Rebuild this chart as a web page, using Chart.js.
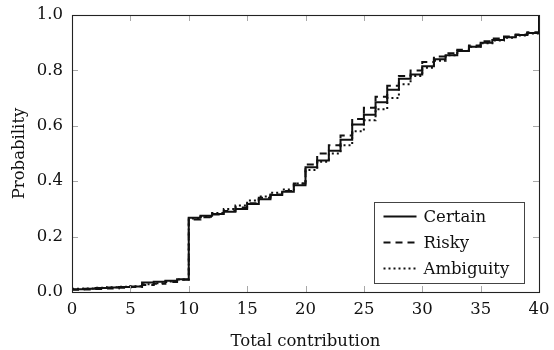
<!DOCTYPE html>
<html>
<head>
<meta charset="utf-8">
<title>Total contribution CDF</title>
<script src="https://cdn.jsdelivr.net/npm/chart.js@4.4.1/dist/chart.umd.min.js"></script>
<style>
  html, body { margin: 0; padding: 0; background: #fff; }
  #wrap { width: 554px; height: 350px; }
</style>
</head>
<body>
<div id="wrap"><canvas id="cdf" width="554" height="350"></canvas></div>
<script>
// Contribution levels (integers 0..40)
const contributions = [
  0, 1, 2, 3, 4, 5, 6, 7, 8, 9, 10, 11, 12, 13, 14, 15, 16, 17, 18, 19, 20,
  21, 22, 23, 24, 25, 26, 27, 28, 29, 30, 31, 32, 33, 34, 35, 36, 37, 38, 39, 40
];

// Empirical cumulative probabilities per treatment
const certainCdf = [
  0.010, 0.012, 0.014, 0.016, 0.018, 0.020, 0.034, 0.037, 0.041, 0.046,
  0.268, 0.275, 0.282, 0.290, 0.300, 0.318, 0.335, 0.350, 0.362, 0.385,
  0.450, 0.475, 0.510, 0.550, 0.605, 0.640, 0.685, 0.730, 0.770, 0.785,
  0.815, 0.840, 0.855, 0.870, 0.885, 0.900, 0.910, 0.920, 0.928, 0.935, 1.000
];
const riskyCdf = [
  0.008, 0.009, 0.011, 0.013, 0.015, 0.018, 0.025, 0.030, 0.036, 0.044,
  0.262, 0.270, 0.280, 0.292, 0.305, 0.320, 0.340, 0.352, 0.365, 0.392,
  0.460, 0.500, 0.530, 0.565, 0.625, 0.665, 0.705, 0.745, 0.780, 0.800,
  0.830, 0.850, 0.862, 0.875, 0.890, 0.905, 0.915, 0.922, 0.930, 0.938, 1.000
];
const ambiguityCdf = [
  0.012, 0.013, 0.015, 0.017, 0.019, 0.021, 0.028, 0.032, 0.038, 0.045,
  0.265, 0.272, 0.285, 0.300, 0.312, 0.330, 0.345, 0.358, 0.370, 0.392,
  0.440, 0.470, 0.500, 0.530, 0.580, 0.620, 0.660, 0.700, 0.750, 0.780,
  0.810, 0.835, 0.855, 0.870, 0.885, 0.898, 0.908, 0.918, 0.926, 0.933, 1.000
];

const seriesNames = ['Certain', 'Risky', 'Ambiguity'];
const xTicks = [0, 5, 10, 15, 20, 25, 30, 35, 40];
const yTicks = [0.0, 0.2, 0.4, 0.6, 0.8, 1.0];

const FONT = '"DejaVu Serif", "Liberation Serif", serif';
const INK = '#111';

function points(values) {
  return contributions.map((c, i) => ({ x: c, y: values[i] }));
}

const dashes = [[], [7, 5], [2, 3]];
const curves = [certainCdf, riskyCdf, ambiguityCdf];

const datasets = curves.map((vals, i) => ({
  label: seriesNames[i],
  data: points(vals),
  stepped: 'before',
  borderColor: INK,
  borderWidth: 2,
  borderDash: dashes[i],
  pointRadius: 0,
  fill: false
}));

// Frame, inward ticks on all four sides, and the boxed legend
const framePlugin = {
  id: 'frame',
  afterDraw(chart) {
    const { ctx, chartArea: a, scales } = chart;
    const xs = scales.x, ys = scales.y;
    ctx.save();
    // inward tick marks
    ctx.strokeStyle = '#a8a8a8';
    ctx.lineWidth = 1;
    const tl = 6;
    ctx.beginPath();
    xTicks.forEach(v => {
      const px = Math.round(xs.getPixelForValue(v)) + 0.5;
      ctx.moveTo(px, a.bottom); ctx.lineTo(px, a.bottom - tl);
      ctx.moveTo(px, a.top); ctx.lineTo(px, a.top + tl);
    });
    yTicks.forEach(v => {
      const py = Math.round(ys.getPixelForValue(v)) + 0.5;
      ctx.moveTo(a.left, py); ctx.lineTo(a.left + tl, py);
      ctx.moveTo(a.right, py); ctx.lineTo(a.right - tl, py);
    });
    ctx.stroke();
    // axis frame
    ctx.strokeStyle = '#222';
    ctx.lineWidth = 1.1;
    ctx.strokeRect(Math.round(a.left) + 0.5, Math.round(a.top) + 0.5,
                   Math.round(a.right - a.left), Math.round(a.bottom - a.top));

    // legend box
    const bw = 150, bh = 81;
    const bx = Math.round(a.right - 15 - bw) + 0.5;
    const by = Math.round(a.bottom - 9 - bh) + 0.5;
    ctx.fillStyle = '#fff';
    ctx.fillRect(bx, by, bw, bh);
    ctx.strokeStyle = '#444';
    ctx.lineWidth = 1;
    ctx.strokeRect(bx, by, bw, bh);
    ctx.font = '16.5px ' + FONT;
    ctx.textBaseline = 'middle';
    ctx.textAlign = 'left';
    chart.data.datasets.forEach((ds, i) => {
      const ry = by + 14 + i * 26;
      ctx.strokeStyle = ds.borderColor;
      ctx.lineWidth = ds.borderWidth;
      ctx.setLineDash(ds.borderDash);
      ctx.beginPath();
      ctx.moveTo(bx + 9, ry);
      ctx.lineTo(bx + 42, ry);
      ctx.stroke();
      ctx.setLineDash([]);
      ctx.fillStyle = INK;
      ctx.fillText(ds.label, bx + 49, ry + 1);
    });
    ctx.restore();
  }
};

new Chart(document.getElementById('cdf'), {
  type: 'line',
  data: { datasets },
  plugins: [framePlugin],
  options: {
    responsive: false,
    animation: false,
    devicePixelRatio: 1,
    layout: { padding: { left: 0, right: 15, top: 15, bottom: 0 } },
    plugins: {
      legend: { display: false },
      tooltip: { enabled: false }
    },
    scales: {
      x: {
        type: 'linear',
        min: 0,
        max: 40,
        grid: { display: false, drawTicks: false },
        border: { display: false },
        afterBuildTicks(scale) { scale.ticks = xTicks.map(v => ({ value: v })); },
        afterFit(scale) {
          scale.height = 58;
          scale.paddingLeft = 0;
          scale.paddingRight = 0;
        },
        ticks: {
          color: INK,
          padding: 8,
          maxRotation: 0,
          font: { family: FONT, size: 16.5 },
          callback: v => String(v)
        },
        title: {
          display: true,
          text: 'Total contribution',
          color: INK,
          padding: { top: 0, bottom: 0 },
          font: { family: FONT, size: 16.5, lineHeight: 1.0 }
        }
      },
      y: {
        type: 'linear',
        min: 0,
        max: 1,
        grid: { display: false, drawTicks: false },
        border: { display: false },
        afterBuildTicks(scale) { scale.ticks = yTicks.map(v => ({ value: v })); },
        afterFit(scale) {
          scale.width = 72;
          scale.paddingTop = 0;
          scale.paddingBottom = 0;
        },
        ticks: {
          color: INK,
          padding: 9,
          font: { family: FONT, size: 16.5 },
          callback: v => Number(v).toFixed(1)
        },
        title: {
          display: true,
          text: 'Probability',
          color: INK,
          padding: { top: 10, bottom: 0 },
          font: { family: FONT, size: 16.5 }
        }
      }
    }
  }
});
</script>
</body>
</html>
